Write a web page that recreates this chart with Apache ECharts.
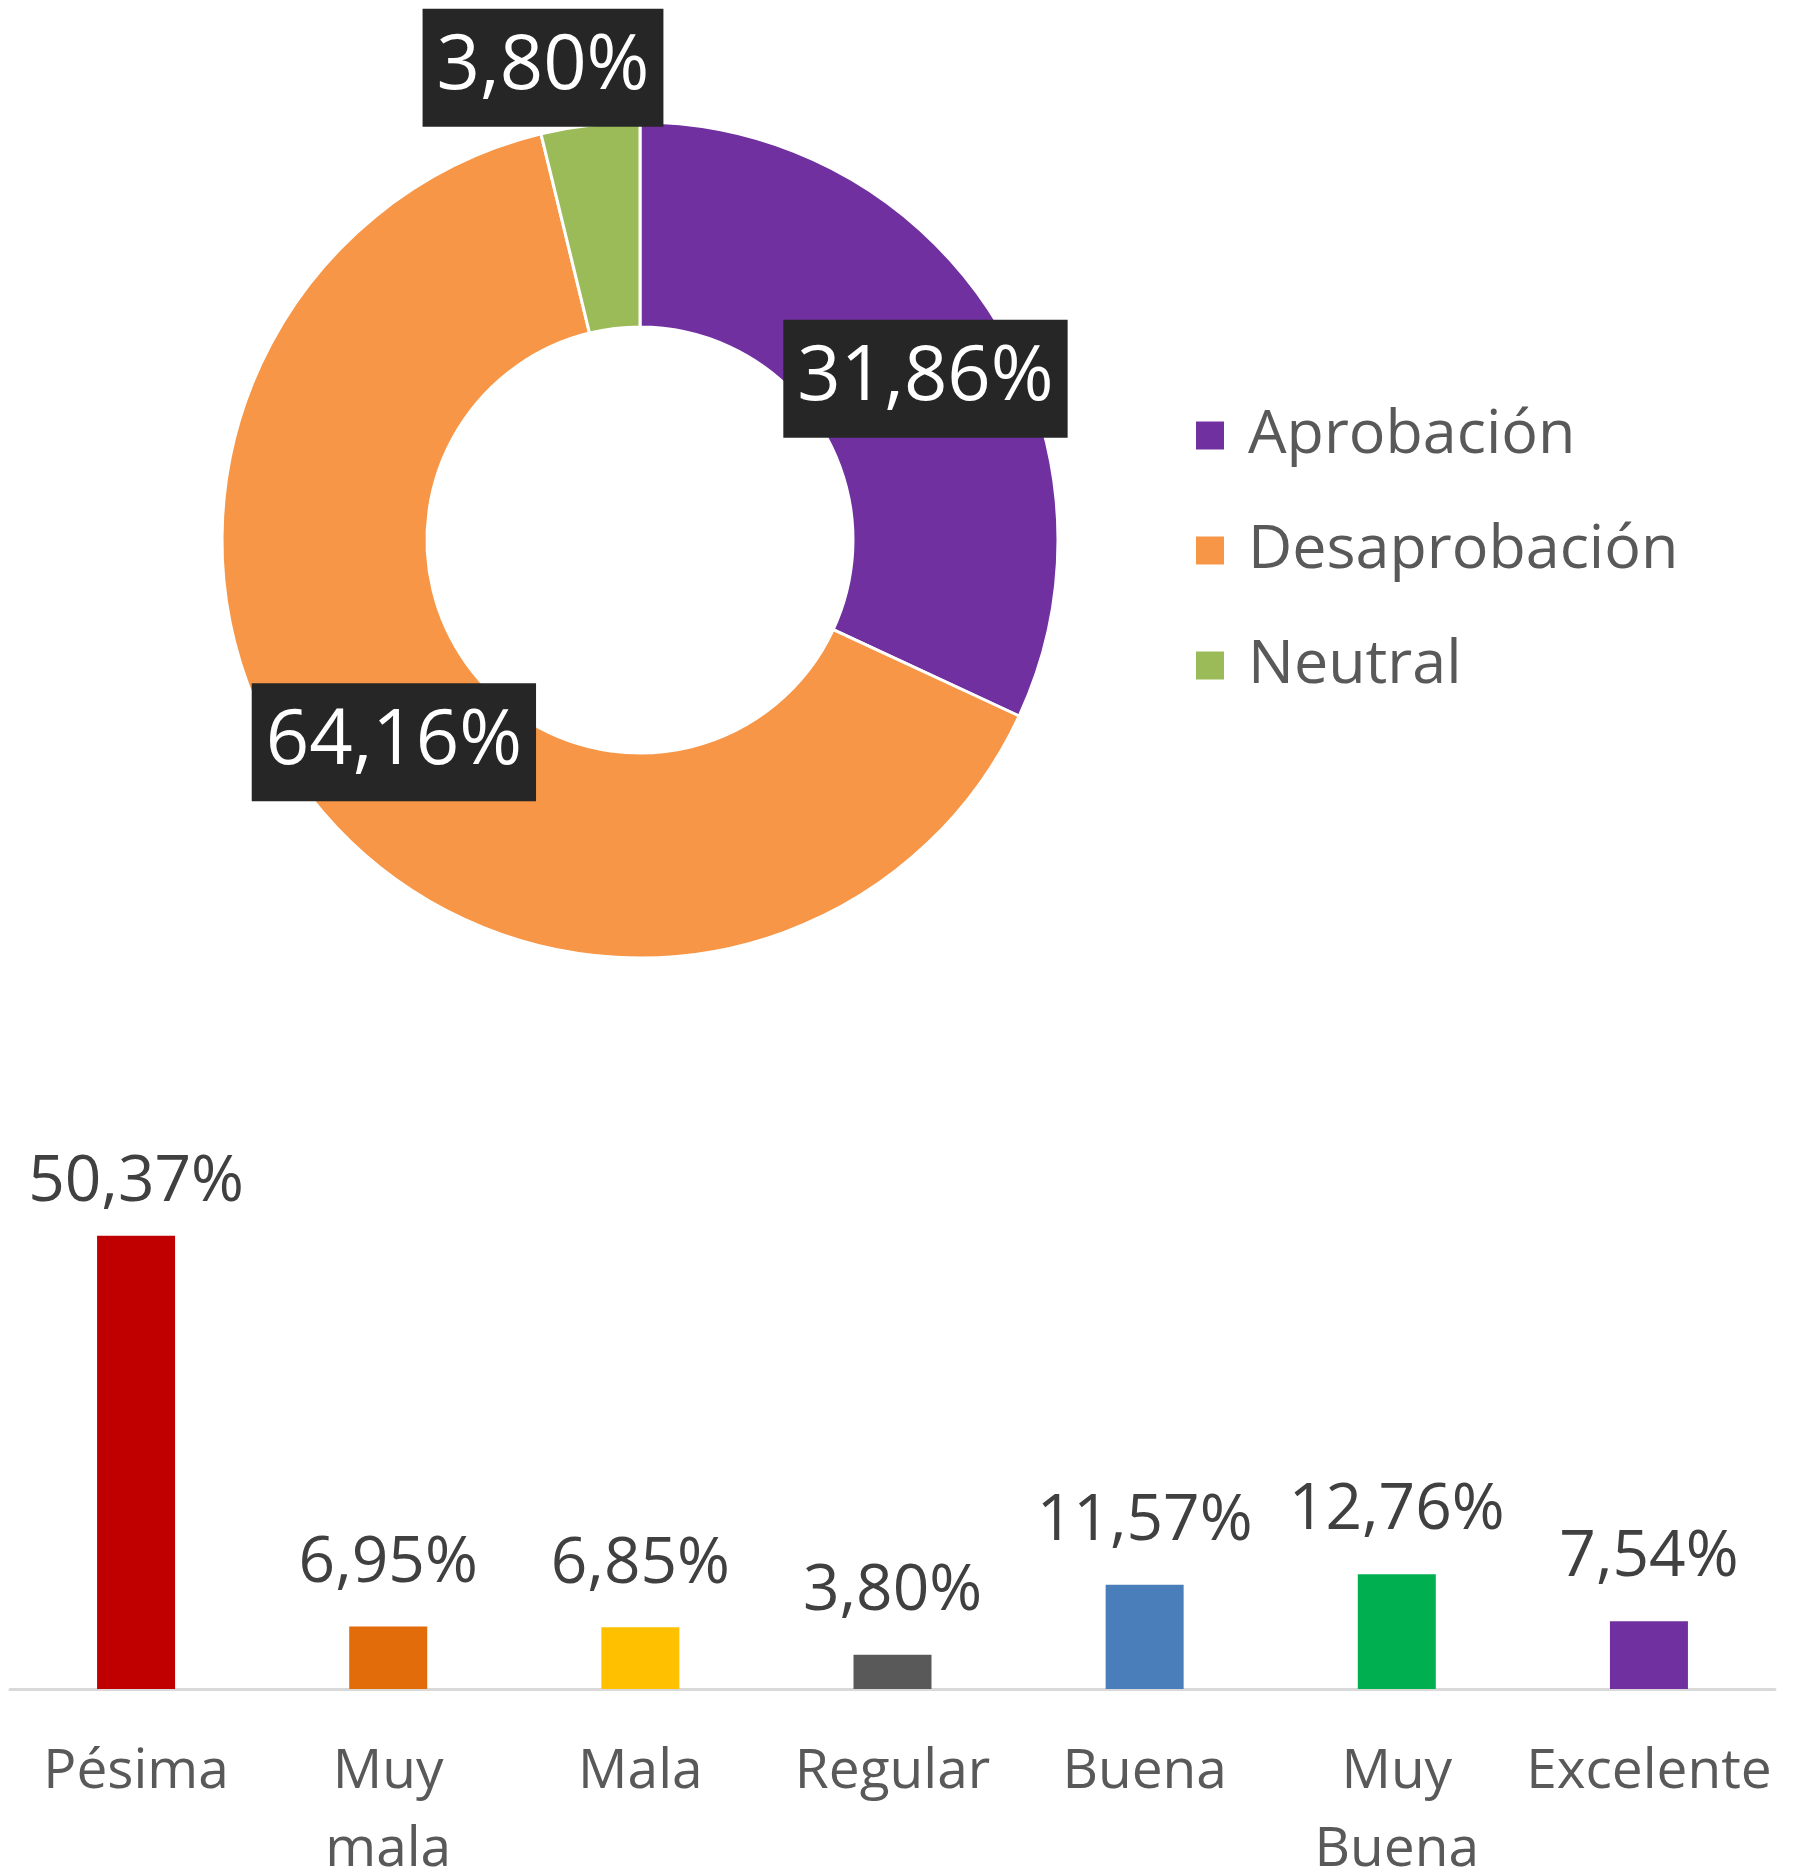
<!DOCTYPE html>
<html>
<head>
<meta charset="utf-8">
<script src="https://cdn.jsdelivr.net/npm/echarts@6/dist/echarts.min.js"></script>
<style>
html,body{margin:0;padding:0;background:#fff;}
#c{width:1805px;height:1874px;}
</style>
</head>
<body>
<div id="c"></div>
<script>
// Donut data
const pieNames = ['Aprobación', 'Desaprobación', 'Neutral'];
const pieValues = [31.86, 64.16, 3.80];
const pieColors = ['#7030A0', '#F79646', '#9BBB59'];

// Bar data
const barCategories = ['Pésima', 'Muy mala', 'Mala', 'Regular', 'Buena', 'Muy Buena', 'Excelente'];
const barValues = [50.37, 6.95, 6.85, 3.80, 11.57, 12.76, 7.54];
const barColors = ['#C00000', '#E26B0A', '#FFC000', '#595959', '#4A7EBB', '#00B050', '#7030A0'];

const FONT = 'Open Sans';
const fmt = v => v.toFixed(2).replace('.', ',') + '%';

const chart = echarts.init(document.getElementById('c'), null, {renderer: 'canvas'});
chart.setOption({
  animation: false,
  backgroundColor: '#ffffff',
  textStyle: {fontFamily: FONT},
  legend: {
    data: pieNames,
    orient: 'vertical',
    left: 1189,
    top: 400,
    itemWidth: 30,
    itemHeight: 30,
    itemGap: 54,
    icon: 'rect',
    selectedMode: false,
    textStyle: {fontFamily: FONT, fontSize: 61, lineHeight: 61, color: '#595959', padding: [0, 0, 0, 18]}
  },
  grid: {left: 10, right: 30, bottom: 185, top: 1194, containLabel: false, outerBoundsMode: 'none'},
  xAxis: {
    type: 'category',
    data: barCategories,
    axisLine: {show: true, lineStyle: {color: '#d9d9d9', width: 3}},
    axisTick: {show: false},
    axisLabel: {
      interval: 0,
      margin: 44,
      fontFamily: FONT,
      fontSize: 55,
      lineHeight: 78,
      color: '#595959',
      formatter: v => v.replace(' ', '\n')
    }
  },
  yAxis: {type: 'value', min: 0, max: 55, show: false, splitLine: {show: false}},
  series: [
    {
      type: 'pie',
      center: [640, 540],
      radius: [213, 418],
      startAngle: 90,
      clockwise: true,
      legendHoverLink: false,
      emphasis: {disabled: true},
      itemStyle: {borderColor: '#ffffff', borderWidth: 3},
      data: pieNames.map((n, i) => ({name: n, value: pieValues[i], itemStyle: {color: pieColors[i]}})),
      label: {
        show: true,
        position: 'inside',
        formatter: p => fmt(p.value),
        color: '#ffffff',
        backgroundColor: '#262626',
        padding: [21, 14],
        fontFamily: FONT,
        fontSize: 76,
        lineHeight: 76
      },
      labelLine: {show: false},
      labelLayout: function (params) {
        if (params.dataIndex === 2) return {dx: -59, dy: -156};
        if (params.dataIndex === 0) return {dx: 17, dy: 10};
        return {};
      }
    },
    {
      type: 'bar',
      barWidth: 78,
      emphasis: {disabled: true},
      data: barValues.map((v, i) => ({
        value: v,
        itemStyle: {color: barColors[i]},
        label: i === 0 ? {distance: 21} : undefined
      })),
      label: {
        show: true,
        position: 'top',
        distance: 31,
        formatter: p => fmt(p.value),
        fontFamily: FONT,
        fontSize: 64,
        lineHeight: 64,
        color: '#404040'
      }
    }
  ]
});
</script>
</body>
</html>
